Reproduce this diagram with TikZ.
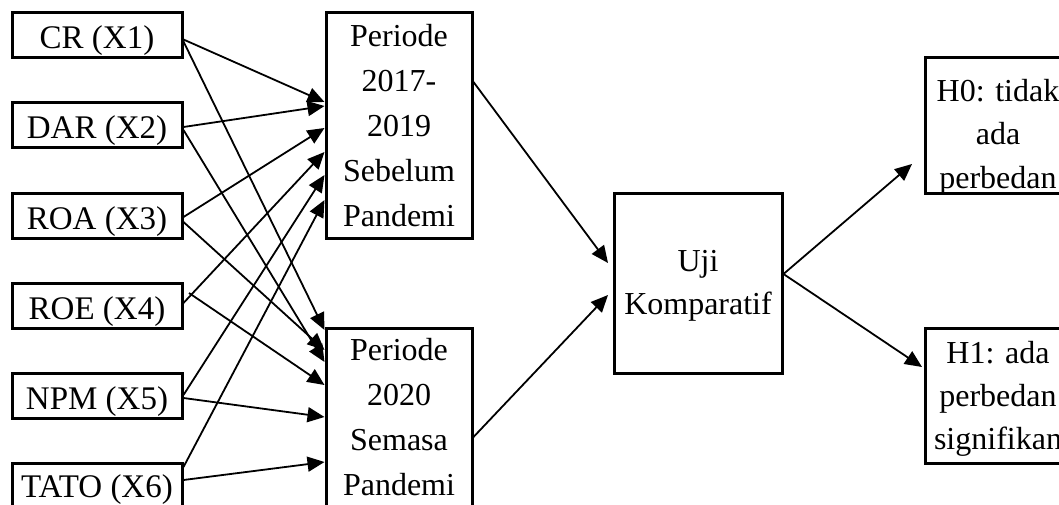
\documentclass[tikz,border=0pt]{standalone}
\usepackage{fontspec}
\setmainfont{Liberation Serif}
\usetikzlibrary{arrows.meta}

% fixed-size cell: width, height, first-baseline depth from top, lines
\newcommand\cellbox[4]{\parbox[c][#2][t]{#1}{\centering\rule{0pt}{#3}#4}}

\begin{document}
\begin{tikzpicture}[x=1pt,y=-1pt,
  box/.style={draw, line width=3pt, inner sep=0pt},
  var/.style={font=\fontsize{33pt}{45pt}\selectfont},
  wide/.style={font=\fontsize{32pt}{45pt}\selectfont},
  tight/.style={font=\fontsize{32pt}{43pt}\selectfont},
  arr/.style={line width=1.8pt, -{Triangle[length=17pt,width=15pt]}}]
\useasboundingbox (0,0) rectangle (1059,505);
\clip (0,0) rectangle (1059,505);
\fill[white] (0,0) rectangle (1059,505);

% ratio variables
\node[box,var] (cr)   at (97,35.5)  {\cellbox{170pt}{45pt}{36pt}{CR (X1)}};
\node[box,var] (dar)  at (97,125.5) {\cellbox{170pt}{45pt}{36pt}{DAR (X2)}};
\node[box,var] (roa)  at (97,215.5) {\cellbox{170pt}{45pt}{36pt}{ROA (X3)}};
\node[box,var] (roe)  at (97,305.5) {\cellbox{170pt}{45pt}{36pt}{ROE (X4)}};
\node[box,var] (npm)  at (97,395.5) {\cellbox{170pt}{45pt}{36pt}{NPM (X5)}};
\node[box,var] (tato) at (97,485.5) {\cellbox{170pt}{45pt}{34pt}{TATO (X6)}};

% periods
\node[box,wide] (p1) at (399,125.5) {\cellbox{146pt}{225pt}{34pt}{Periode\\2017-\\2019\\Sebelum\\Pandemi}};
\node[box,wide] (p2) at (399,440.5) {\cellbox{146pt}{225pt}{32pt}{Periode\\2020\\Semasa\\Pandemi}};

% test and hypotheses
\node[box,tight] (uji) at (698,283) {\cellbox{168pt}{180pt}{78pt}{Uji\\Komparatif}};
\node[box,tight] (h0) at (998,125.5) {\cellbox{146pt}{135pt}{44pt}{H0: tidak\\ada\\perbedan}};
\node[box,tight] (h1) at (998,395.5) {\cellbox{146pt}{135pt}{35pt}{H1: ada\\perbedan\\signifikan}};

% variables to periods
\draw[arr] ([yshift=-4pt]cr.east)   -- ([yshift=23.5pt]p1.west);
\draw[arr] ([yshift=-6pt]cr.east)   -- ([yshift=110.5pt]p2.west);
\draw[arr] ([yshift=-1.5pt]dar.east) -- ([yshift=19.5pt]p1.west);
\draw[arr] ([yshift=-4.5pt]dar.east) -- ([yshift=78.5pt]p2.west);
\draw[arr] ([yshift=-1.5pt]roa.east) -- ([yshift=-2.5pt]p1.west);
\draw[arr] ([yshift=-6.5pt]roa.east) -- ([yshift=90.5pt]p2.west);
\draw[arr] ([yshift=2.5pt]roe.east)  -- ([yshift=-26.5pt]p1.west);
\draw[arr] ([xshift=5.5pt,yshift=12.5pt]roe.east) -- ([yshift=55.5pt]p2.west);
\draw[arr] ([yshift=0.5pt]npm.east)  -- ([yshift=-49.5pt]p1.west);
\draw[arr] ([yshift=-2.5pt]npm.east) -- ([yshift=23.5pt]p2.west);
\draw[arr] ([yshift=18.5pt]tato.east) -- ([yshift=-74.5pt]p1.west);
\draw[arr] ([yshift=5.5pt]tato.east)  -- ([yshift=-21.5pt]p2.west);

% periods to test
\draw[arr] ([yshift=43.5pt]p1.east) -- ([xshift=-4.5pt,yshift=20pt]uji.west);
\draw[arr] ([yshift=3.5pt]p2.east)  -- ([xshift=-4.5pt,yshift=-12pt]uji.west);

% test to hypotheses
\draw[arr] ([yshift=9pt]uji.east) -- ([xshift=-11.5pt,yshift=-38.5pt]h0.west);
\draw[arr] ([yshift=9pt]uji.east) -- ([xshift=-1.5pt,yshift=28.5pt]h1.west);
\end{tikzpicture}
\end{document}
